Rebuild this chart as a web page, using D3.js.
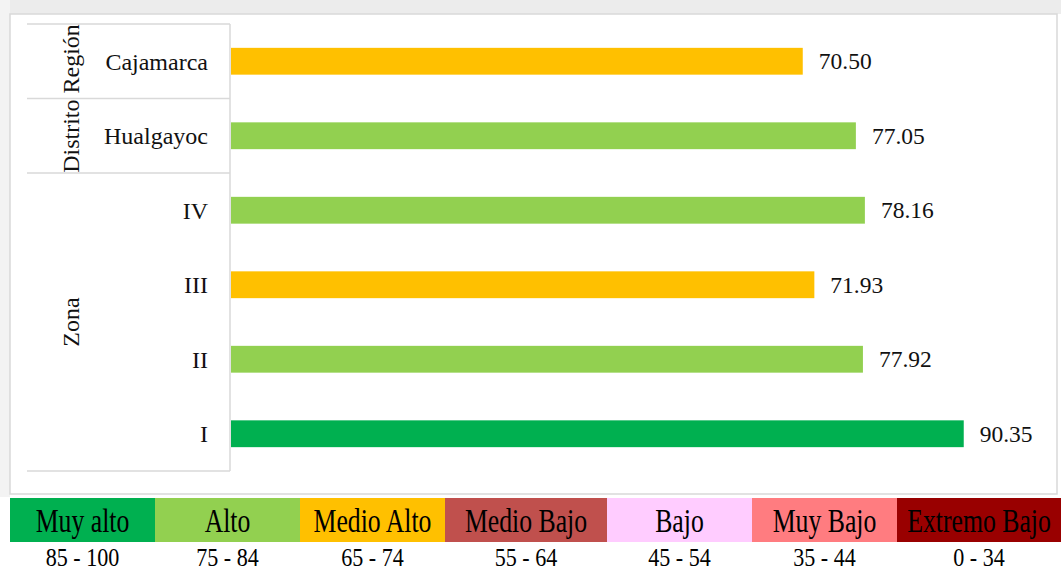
<!DOCTYPE html>
<html><head><meta charset="utf-8">
<script src="https://cdn.jsdelivr.net/npm/d3@7"></script>
<style>html,body{margin:0;padding:0;background:#fff;}svg{display:block;}</style>
</head><body>
<script>
// Data
const categories = ["Cajamarca", "Hualgayoc", "IV", "III", "II", "I"];
const groups = [
  {name: "Distrito Región", members: ["Cajamarca", "Hualgayoc"]},
  {name: "Zona", members: ["IV", "III", "II", "I"]}
];
const values = [70.50, 77.05, 78.16, 71.93, 77.92, 90.35];
const barLevels = ["Medio Alto", "Alto", "Alto", "Medio Alto", "Alto", "Muy alto"];
const legendLabels = ["Muy alto", "Alto", "Medio Alto", "Medio Bajo", "Bajo", "Muy Bajo", "Extremo Bajo"];
const legendRanges = ["85 - 100", "75 - 84", "65 - 74", "55 - 64", "45 - 54", "35 - 44", "0 - 34"];
const legendColors = ["#00B050", "#92D050", "#FFC000", "#C0504D", "#FFCCFF", "#FF7C80", "#990000"];
const legendWidths = [145, 145, 145, 162, 145, 145, 164];

(function () {
const W = 1061, H = 574;
const font = "'Liberation Serif','Times New Roman',serif";
const svg = d3.select("body").append("svg").attr("width", W).attr("height", H);

// background
svg.append("rect").attr("width", W).attr("height", H).attr("fill", "#fff");
svg.append("rect").attr("x", 0).attr("y", 0).attr("width", W).attr("height", 14).attr("fill", "#ececec");
svg.append("rect").attr("x", 0).attr("y", 0).attr("width", 10).attr("height", 497).attr("fill", "#f3f3f3");

// chart frame
svg.append("rect").attr("x", 10).attr("y", 14).attr("width", 1047).attr("height", 480)
  .attr("fill", "#fff").attr("stroke", "#d9d9d9").attr("stroke-width", 1.5);

const x = d3.scaleLinear().domain([0, 100]).range([231, 1042]);
const y = d3.scaleBand().domain(categories).range([24, 471]).paddingInner(0.64).paddingOuter(0.32);
const colorOf = d3.scaleOrdinal().domain(legendLabels).range(legendColors);

// bars
svg.selectAll("rect.bar").data(categories).join("rect").attr("class", "bar")
  .attr("x", x(0)).attr("y", d => y(d))
  .attr("width", (d, i) => x(values[i]) - x(0)).attr("height", y.bandwidth())
  .attr("fill", (d, i) => colorOf(barLevels[i]));

// value labels
svg.selectAll("text.val").data(categories).join("text").attr("class", "val")
  .attr("x", (d, i) => x(values[i]) + 16).attr("y", d => y(d) + y.bandwidth() / 2)
  .attr("dy", "0.35em").attr("font-family", font).attr("font-size", 23.5).attr("fill", "#111")
  .text((d, i) => values[i].toFixed(2));

// category axis (multi-level)
const step = y.step();
const lineColor = "#d9d9d9";
const yTop = 24, yBottom = 471, xLeft = 27, axisX = 230;
svg.append("line").attr("x1", axisX).attr("x2", axisX).attr("y1", yTop).attr("y2", yBottom)
  .attr("stroke", lineColor).attr("stroke-width", 1.5);

let idx = 0;
const bounds = [yTop];
groups.forEach(g => {
  const y0 = yTop + idx * step;
  idx += g.members.length;
  const y1 = yTop + idx * step;
  bounds.push(y1);
  svg.append("text").attr("transform", `translate(71,${(y0 + y1) / 2}) rotate(-90)`)
    .attr("text-anchor", "middle").attr("dy", "0.35em")
    .attr("font-family", font).attr("font-size", 24).attr("fill", "#111").text(g.name);
});
const innerBounds = [yTop + step];
bounds.concat(innerBounds).forEach(b => {
  svg.append("line").attr("x1", xLeft).attr("x2", axisX).attr("y1", b).attr("y2", b)
    .attr("stroke", lineColor).attr("stroke-width", 1.5);
});

svg.selectAll("text.cat").data(categories).join("text").attr("class", "cat")
  .attr("x", 208).attr("y", d => y(d) + y.bandwidth() / 2).attr("dy", "0.35em")
  .attr("text-anchor", "end").attr("font-family", font).attr("font-size", 24).attr("fill", "#111")
  .text(d => d);

// legend table
let lx = 10;
const cells = legendLabels.map((l, i) => { const c = {label: l, range: legendRanges[i], color: legendColors[i], x: lx, w: legendWidths[i]}; lx += legendWidths[i]; return c; });
svg.selectAll("rect.leg").data(cells).join("rect").attr("class", "leg")
  .attr("x", d => d.x).attr("y", 498).attr("width", d => d.w).attr("height", 44).attr("fill", d => d.color);
svg.selectAll("text.legl").data(cells).join("text").attr("class", "legl")
  .attr("transform", d => `translate(${d.x + d.w / 2},520) scale(0.78,1)`)
  .attr("text-anchor", "middle").attr("dy", "0.35em")
  .attr("font-family", font).attr("font-size", 33).attr("fill", "#000").text(d => d.label);
svg.selectAll("text.legr").data(cells).join("text").attr("class", "legr")
  .attr("transform", d => `translate(${d.x + d.w / 2},566) scale(0.85,1)`)
  .attr("text-anchor", "middle")
  .attr("font-family", font).attr("font-size", 26).attr("fill", "#000").text(d => d.range);
})();
</script>
</body></html>
